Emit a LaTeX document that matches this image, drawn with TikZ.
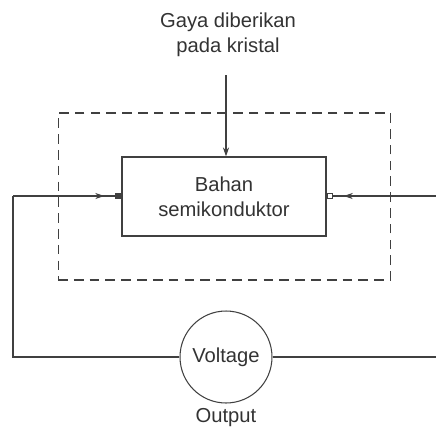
\documentclass[tikz,border=0pt]{standalone}
\usepackage{fontspec}
\setmainfont{Liberation Sans}
\usetikzlibrary{positioning,arrows.meta,decorations.markings}

\begin{document}
\begin{tikzpicture}[x=0.02cm, y=-0.02cm,
  line/.style={draw=black!75, line width=0.6pt},
  block/.style={line, minimum width=4.08cm, minimum height=1.58cm,
                align=center, font=\fontsize{11.5}{14}\selectfont, text=black!80},
  label/.style={align=center, font=\fontsize{11.5}{14}\selectfont, text=black!80},
  arr/.style={line, -{Stealth[length=1.8mm, width=1.2mm]}},
  midarr/.style={line, postaction={decorate}, decoration={markings,
                 mark=at position -6pt with {\arrow{Stealth[length=1.8mm, width=1.2mm]}}}},
  term/.style={draw=black!75, line width=0.6pt, minimum size=3pt, inner sep=0pt}]
\useasboundingbox (0,0) rectangle (436,433);
\node[block, draw=black!75, dash pattern=on 5.5pt off 3.5pt, minimum width=6.66cm, minimum height=3.34cm]
  (case) at (224.5,196.5) {};
\node[block, fill=white] (bahan) at (224,196.5) {Bahan\\semikonduktor};
\node[label] (gaya) at (228,35) {Gaya diberikan\\pada kristal};
\node[line, circle, minimum size=1.84cm, inner sep=0pt, label, draw=black!75] (volt) at (226,357) {Voltage};
\node[label] (out) at (226,418) {Output};
\node[term, fill=black!75] (tl) at (118,196) {};
\node[term, fill=white] (tr) at (330,196) {};
\coordinate (fin) at (226,75);
\coordinate (cl) at (13,196);
\coordinate (bl) at (13,357);
\coordinate (cr) at (436,196);
\coordinate (br) at (436,357);
\draw[arr] (fin) -- (fin |- bahan.north);
\draw[midarr] (cl) -- (tl.west);
\draw[midarr] (cr) -- (tr.east);
\draw[line] (cl) -- (bl) -- (volt.west);
\draw[line] (volt.east) -- (br);
\end{tikzpicture}
\end{document}
